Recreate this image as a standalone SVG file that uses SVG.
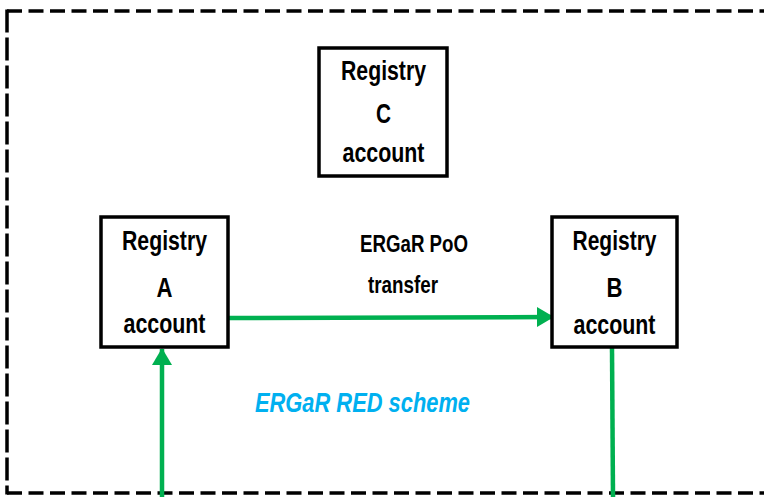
<svg xmlns="http://www.w3.org/2000/svg" width="764" height="497" viewBox="0 0 764 497">
<style>
.frame{stroke:#000;stroke-width:3.5;fill:none}
.h{stroke-dasharray:15 6.5}
.v{stroke-dasharray:23 5}
.box{fill:#fff;stroke:#000;stroke-width:3.5}
.lbl{font-family:"Liberation Sans",Arial,sans-serif;font-weight:bold;font-size:27px;fill:#000}
.edge{font-family:"Liberation Sans",Arial,sans-serif;font-weight:bold;font-size:23px;fill:#000}
.scheme{font-family:"Liberation Sans",Arial,sans-serif;font-weight:bold;font-style:italic;font-size:28px;fill:#00b0f0}
.con{stroke:#00b050;stroke-width:4.5;fill:none}
</style>
<defs>
<marker id="ah" markerUnits="userSpaceOnUse" markerWidth="18" markerHeight="22" refX="16" refY="10" orient="auto">
<path d="M0,0 L17,10 L0,20 Z" fill="#00b050"/>
</marker>
</defs>
<g id="frame">
<line class="frame h" x1="7" y1="11" x2="764" y2="11"/>
<line class="frame h" x1="7" y1="493" x2="764" y2="493"/>
<line class="frame v" x1="7" y1="9.5" x2="7" y2="494.5"/>
</g>
<g id="connectors">
<line class="con" x1="228" y1="318" x2="553" y2="317" marker-end="url(#ah)"/>
<line class="con" x1="162" y1="497" x2="162" y2="349" marker-end="url(#ah)"/>
<line class="con" x1="612" y1="348" x2="613" y2="497"/>
</g>
<g id="nodeC">
<rect class="box" x="319" y="48" width="128" height="128"/>
<text class="lbl" x="383.5" y="80" text-anchor="middle" textLength="85" lengthAdjust="spacingAndGlyphs">Registry</text>
<text class="lbl" x="383.5" y="123" text-anchor="middle" textLength="15" lengthAdjust="spacingAndGlyphs">C</text>
<text class="lbl" x="383.5" y="162" text-anchor="middle" textLength="82" lengthAdjust="spacingAndGlyphs">account</text>
</g>
<g id="nodeA">
<rect class="box" x="101" y="217" width="127" height="130"/>
<text class="lbl" x="164.5" y="250" text-anchor="middle" textLength="85" lengthAdjust="spacingAndGlyphs">Registry</text>
<text class="lbl" x="164.5" y="297" text-anchor="middle" textLength="16" lengthAdjust="spacingAndGlyphs">A</text>
<text class="lbl" x="164.5" y="333" text-anchor="middle" textLength="82" lengthAdjust="spacingAndGlyphs">account</text>
</g>
<g id="nodeB">
<rect class="box" x="552" y="217" width="125" height="130"/>
<text class="lbl" x="614.5" y="250" text-anchor="middle" textLength="84" lengthAdjust="spacingAndGlyphs">Registry</text>
<text class="lbl" x="614.5" y="297" text-anchor="middle" textLength="16" lengthAdjust="spacingAndGlyphs">B</text>
<text class="lbl" x="614.5" y="334" text-anchor="middle" textLength="82" lengthAdjust="spacingAndGlyphs">account</text>
</g>
<g id="edge-label">
<text class="edge" x="360" y="252" textLength="108" lengthAdjust="spacingAndGlyphs">ERGaR PoO</text>
<text class="edge" x="368" y="293" textLength="70" lengthAdjust="spacingAndGlyphs">transfer</text>
</g>
<g id="scheme-label">
<text class="scheme" x="255" y="412" textLength="215" lengthAdjust="spacingAndGlyphs">ERGaR RED scheme</text>
</g>
</svg>
